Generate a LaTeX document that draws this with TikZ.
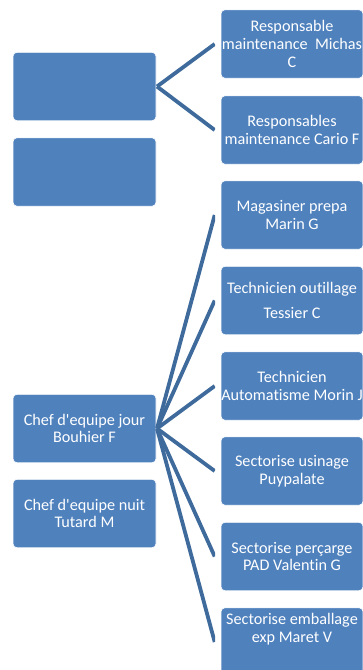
\documentclass[tikz,border=0pt]{standalone}
\usepackage{fontspec}
\setmainfont{Carlito}[Ligatures={NoCommon}]
\definecolor{boxblue}{HTML}{4F81BD}
\definecolor{linkblue}{HTML}{3E6A9C}
\tikzset{
  orgbox/.style={rectangle, rounded corners=4pt, fill=boxblue, draw=white, line width=0.6pt,
    text=white, align=center, inner sep=0pt, minimum height=68.5pt,
    font=\fontsize{16.2}{17.8}\selectfont},
  leftbox/.style={orgbox, minimum width=143pt},
  rightbox/.style={orgbox, minimum width=142pt},
  link/.style={draw=linkblue, line width=3.8pt}
}
\begin{document}
\begin{tikzpicture}[x=1pt,y=-1pt]
\useasboundingbox (0,0) rectangle (362,670);
% left boxes
\node[leftbox] (l1) at (84.5,86.5) {};
\node[leftbox] (l2) at (84.5,172) {};
\node[leftbox] (l3) at (84.5,428.5) {Chef d\textquotesingle equipe jour\\Bouhier F};
\node[leftbox] (l4) at (84.5,513.5) {Chef d\textquotesingle equipe nuit\\Tutard M};
% right boxes
\node[rightbox] (r1) at (292,44) {Responsable\\maintenance\ \ Michas\\C};
\node[rightbox] (r2) at (292,130) {Responsables\\maintenance Cario F};
\node[rightbox] (r3) at (292,215) {Magasiner prepa\\Marin G};
\node[rightbox] (r4) at (292,300.5) {Technicien outillage\\[6.5pt]Tessier C};
\node[rightbox] (r5) at (292,386) {Technicien\\Automatisme Morin J};
\node[rightbox] (r6) at (292,471) {Sectorise usinage\\Puypalate};
\node[rightbox] (r7) at (292,556.5) {Sectorise perçarge\\PAD Valentin G};
\node[rightbox, label={[yshift=12.5pt, text=white, align=center, inner sep=0pt, font=\fontsize{16.2}{17.8}\selectfont]center:Sectorise emballage\\exp Maret V}] (r8) at (292,642) {};
% hubs
\coordinate (h1) at (157,86.5);
\coordinate (h3) at (157,428.5);
\begin{scope}
\clip (155.5,0) rectangle (215,670);
\foreach \t in {r1,r2}
  \draw[link] (h1) -- ([xshift=-6pt]\t.west);
\foreach \t in {r3,r4,r5,r6,r7,r8}
  \draw[link] (h3) -- ([xshift=-6pt]\t.west);
\end{scope}
\end{tikzpicture}
\end{document}
